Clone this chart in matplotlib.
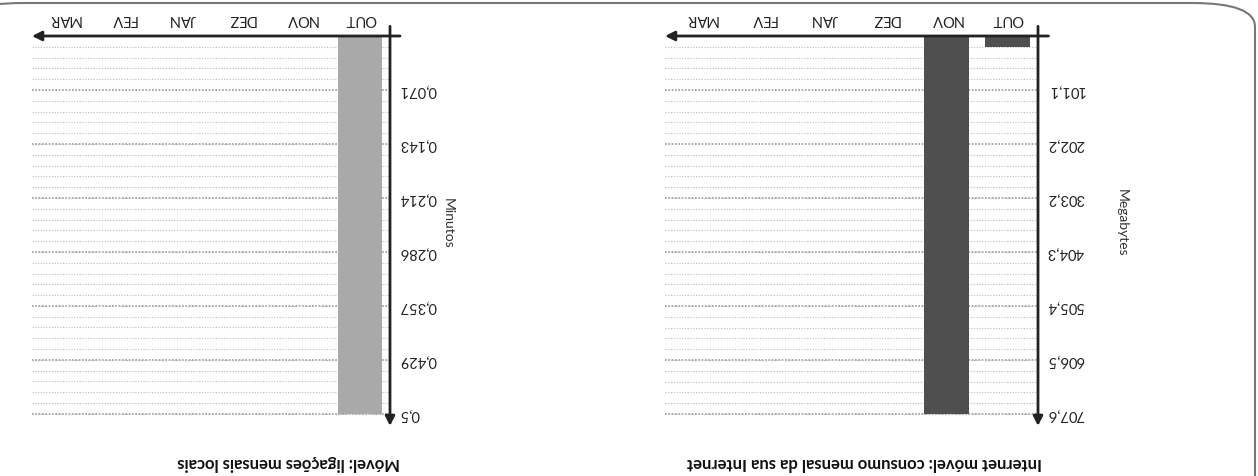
import matplotlib
matplotlib.use("Agg")
import matplotlib.pyplot as plt
from matplotlib.patches import FancyBboxPatch
from matplotlib.ticker import FixedLocator, MultipleLocator

plt.rcParams['font.family'] = ['Lato', 'DejaVu Sans']

months = ["OUT", "NOV", "DEZ", "JAN", "FEV", "MAR"]

# Internet movel (Megabytes)
mb_values = [20, 707.6, 0, 0, 0, 0]
mb_max = 707.6
mb_ticks = [101.1, 202.2, 303.2, 404.3, 505.4, 606.5, 707.6]
mb_labels = ["101,1", "202,2", "303,2", "404,3", "505,4", "606,5", "707,6"]

# Ligacoes locais (Minutos)
min_values = [0.5, 0, 0, 0, 0, 0]
min_max = 0.5
min_ticks = [0.0714, 0.1429, 0.2143, 0.2857, 0.3571, 0.4286, 0.5]
min_labels = ["0,071", "0,143", "0,214", "0,286", "0,357", "0,429", "0,5"]

W, H = 1258, 476
fig = plt.figure(figsize=(W / 100, H / 100), dpi=100)


def px_axes(x0, x1, y0, y1):
    # pixel box (top-left origin) -> figure fraction
    return fig.add_axes([x0 / W, 1 - y1 / H, (x1 - x0) / W, (y1 - y0) / H])


def draw_panel(ax, values, vmax, ticks, labels, color, ylabel, title,
               title_x, ylabel_x, xright):
    n = len(months)
    x = list(range(n))
    ax.bar(x, values, width=0.74, color=color, zorder=3)
    # picture is upside down: both axes reversed, text turned 180
    ax.set_xlim(xright, -0.5)
    ax.set_ylim(vmax * 388 / 378, 0)
    for s in ax.spines.values():
        s.set_visible(False)
    ax.yaxis.tick_right()
    ax.xaxis.tick_top()
    ax.set_xticks(x)
    ax.set_xticklabels(months, rotation=180, fontsize=10.5, color="#222222")
    ax.yaxis.set_major_locator(FixedLocator(ticks))
    ax.set_yticklabels(labels, rotation=180, fontsize=10.5, color="#222222",
                       va="center")
    ax.yaxis.set_minor_locator(MultipleLocator(ticks[0] / 5))
    ax.tick_params(axis="both", which="both", length=0)
    ax.tick_params(axis="y", pad=6.5)
    ax.tick_params(axis="x", pad=7)
    ax.grid(axis="y", which="minor", color="#bbbbbb", linestyle=(0, (1, 1.5)),
            linewidth=0.8, zorder=1)
    ax.grid(axis="y", which="major", color="#999999", linestyle=(0, (1, 1)),
            linewidth=1.2, zorder=1)
    ax.set_facecolor("none")
    # axes with arrows
    ax.annotate("", xy=(0.0, 1.0), xycoords="axes fraction",
                xytext=(1.028, 1.0), textcoords="axes fraction",
                arrowprops=dict(arrowstyle="-|>", lw=2, color="#222222",
                                mutation_scale=14, shrinkA=0, shrinkB=0))
    ax.annotate("", xy=(1.0, -0.005), xycoords="axes fraction",
                xytext=(1.0, 1.025), textcoords="axes fraction",
                arrowprops=dict(arrowstyle="-|>", lw=2, color="#222222",
                                mutation_scale=14, shrinkA=0, shrinkB=0))
    fig.text(ylabel_x / W, 1 - 223 / H, ylabel, rotation=270, ha="center",
             va="center", fontsize=10, color="#333333")
    fig.text(title_x / W, 1 - 463 / H, title, rotation=180, ha="center",
             va="center", fontsize=12, fontweight="bold", color="#111111")


ax_min = px_axes(32, 390, 36, 424)
draw_panel(ax_min, min_values, min_max, min_ticks, min_labels, "#a9a9a9",
           "Minutos", "Móvel: ligações mensais locais", 289, 448, 5.54)

ax_mb = px_axes(665, 1038, 36, 424)
draw_panel(ax_mb, mb_values, mb_max, mb_ticks, mb_labels, "#4f4f4f",
           "Megabytes", "Internet móvel: consumo mensal da sua Internet",
           865, 1122, 5.6)

# scanned frame around the right panel
frame = FancyBboxPatch((-40 / W, -0.2), (1255 + 40) / W, 1.2 - 3 / H,
                       boxstyle="round,pad=0,rounding_size=0.05",
                       transform=fig.transFigure, fill=False,
                       edgecolor="#777777", linewidth=1.5)
fig.patches.append(frame)

fig.savefig("out.png", dpi=100, facecolor="white")
